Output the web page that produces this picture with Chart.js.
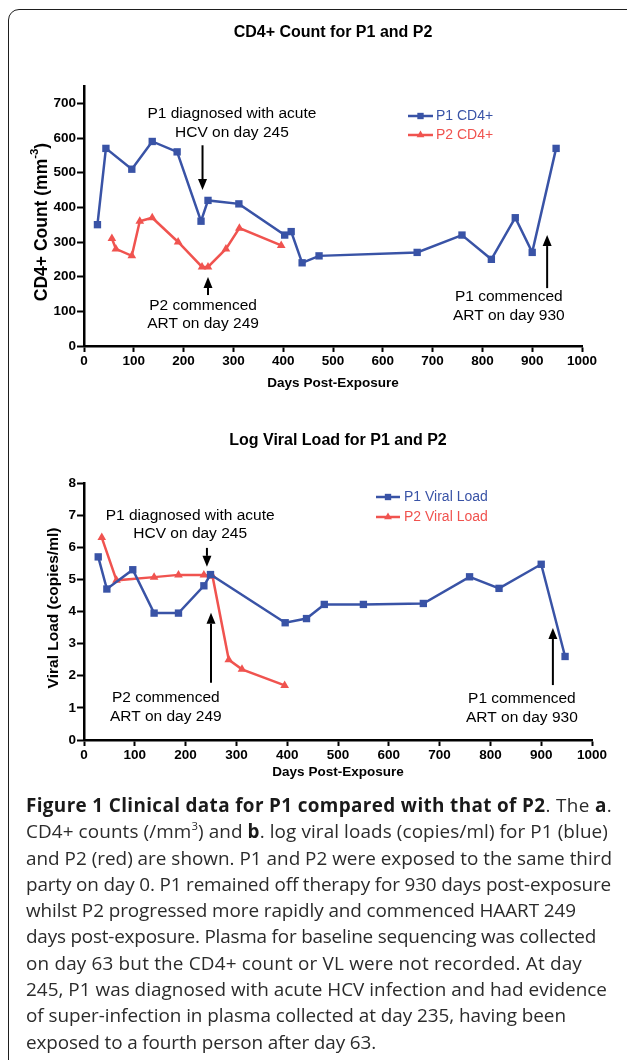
<!DOCTYPE html>
<html><head><meta charset="utf-8">
<script src="https://cdn.jsdelivr.net/npm/chart.js@4.4.1/dist/chart.umd.min.js"></script>
<style>
html,body{margin:0;padding:0;background:#fff;}
body{width:627px;height:1060px;position:relative;overflow:hidden;}
#frame{position:absolute;left:8px;top:9px;width:660px;height:1100px;border:1.6px solid #1e1e1e;border-radius:11px;box-sizing:border-box;}
#c1{position:absolute;left:0;top:0;}
#c2{position:absolute;left:0;top:400px;}
#cap{position:absolute;left:26px;top:792px;font-family:'Open Sans',sans-serif;color:#2b2b2b;font-size:17px;}
.ln{white-space:nowrap;height:26.3px;line-height:26.3px;}
.ln span{display:inline;}
.ln b{color:#1a1a1a;}
sup{font-size:0.6em;line-height:0;vertical-align:0.7em;}
</style></head>
<body>
<div id="frame"></div>
<canvas id="c1" width="627" height="400" style="width:627px;height:400px"></canvas>
<canvas id="c2" width="627" height="400" style="width:627px;height:400px"></canvas>
<div id="cap">
<div class="ln" data-w="586"><span><b>Figure 1 Clinical data for P1 compared with that of P2</b>. The <b>a</b>.</span></div>
<div class="ln" data-w="582"><span>CD4+ counts (/mm<sup>3</sup>) and <b>b</b>. log viral loads (copies/ml) for P1 (blue)</span></div>
<div class="ln" data-w="586" id="l3"><span>and P2 (red) are shown. P1 and P2 were exposed to the same third</span></div>
<div class="ln" data-w="585"><span>party on day 0. P1 remained off therapy for 930 days post-exposure</span></div>
<div class="ln" data-w="550"><span>whilst P2 progressed more rapidly and commenced HAART 249</span></div>
<div class="ln" data-w="570"><span>days post-exposure. Plasma for baseline sequencing was collected</span></div>
<div class="ln" data-w="556"><span>on day 63 but the CD4+ count or VL were not recorded. At day</span></div>
<div class="ln" data-w="581"><span>245, P1 was diagnosed with acute HCV infection and had evidence</span></div>
<div class="ln" data-w="540"><span>of super-infection in plasma collected at day 235, having been</span></div>
<div class="ln" data-w="350"><span>exposed to a fourth person after day 63.</span></div>
</div>
<script>
// ---------- DATA ----------
const xTicksDays = [0,100,200,300,400,500,600,700,800,900,1000];
const cd4Ticks = [0,100,200,300,400,500,600,700];
const vlTicks = [0,1,2,3,4,5,6,7,8];

const p1Cd4Days = [27,44,96,137,187,235,249,311,403,416,438,472,669,759,818,866,900,948];
const p1Cd4     = [350,570,510,590,560,360,420,410,320,330,240,260,270,320,250,370,270,570];
const p2Cd4Days = [56,64,96,112,137,189,237,249,285,312,396];
const p2Cd4     = [310,280,260,360,370,300,228,228,280,340,290];

const p1VlDays = [28,45,96,138,186,236,249,396,438,473,550,668,759,817,900,947];
const p1Vl     = [5.7,4.7,5.3,3.95,3.95,4.8,5.15,3.65,3.78,4.22,4.22,4.25,5.08,4.72,5.47,2.6];
const p2VlDays = [35,64,138,186,236,253,285,311,395];
const p2Vl     = [6.3,4.97,5.07,5.14,5.14,5.1,2.5,2.2,1.7];

const BLUE = '#3953a6';
const RED  = '#f0534f';
const FONT = '"Liberation Sans", Arial, Helvetica, sans-serif';

const pts = (xs, ys) => xs.map((d, i) => ({x: d, y: ys[i]}));

function drawMarker(ctx, style, r, x, y, color) {
  ctx.fillStyle = color; ctx.strokeStyle = color;
  ctx.beginPath();
  if (style === 'rect') {
    const s = r / Math.SQRT2;
    ctx.rect(x - s, y - s, 2 * s, 2 * s);
  } else {
    const w = r * 1.732;
    ctx.moveTo(x, y - r); ctx.lineTo(x + w / 2, y + r / 2); ctx.lineTo(x - w / 2, y + r / 2); ctx.closePath();
  }
  ctx.fill();
}

const annotPlugin = {
  id: 'annot',
  afterDraw(chart, args, o) {
    const {ctx, chartArea: ca, scales: {x, y}} = chart;
    const cx = (ca.left + ca.right) / 2;
    ctx.save();
    ctx.fillStyle = '#000';
    ctx.textAlign = 'center'; ctx.textBaseline = 'middle';
    ctx.font = 'bold 16px ' + FONT;
    ctx.fillText(o.title, cx, o.titleY);
    ctx.font = 'bold 13.5px ' + FONT;
    ctx.fillText(o.xTitle, cx, o.xTitleY);
    // y title (rotated, with optional superscript)
    ctx.save();
    ctx.translate(o.yTitleX, o.yTitleY);
    ctx.rotate(-Math.PI / 2);
    ctx.textAlign = 'left';
    const big = 'bold ' + o.yTitleSize + 'px ' + FONT, small = 'bold ' + (o.yTitleSize * 0.65).toFixed(1) + 'px ' + FONT;
    let w = 0;
    o.yTitle.forEach(p => { ctx.font = p.sup ? small : big; w += ctx.measureText(p.t).width; });
    let px = -w / 2;
    o.yTitle.forEach(p => {
      ctx.font = p.sup ? small : big;
      ctx.fillText(p.t, px, p.sup ? -o.yTitleSize * 0.42 : 0);
      px += ctx.measureText(p.t).width;
    });
    ctx.restore();
    // legend
    const L = o.legend;
    chart.data.datasets.forEach((ds, i) => {
      const ly = L.y + i * L.gap;
      ctx.strokeStyle = ds.borderColor; ctx.lineWidth = 2.5;
      ctx.beginPath(); ctx.moveTo(L.x0, ly); ctx.lineTo(L.x1, ly); ctx.stroke();
      drawMarker(ctx, ds.pointStyle, 4.5, (L.x0 + L.x1) / 2, ly, ds.borderColor);
      ctx.fillStyle = ds.borderColor;
      ctx.font = '14px ' + FONT;
      ctx.textAlign = 'left';
      ctx.fillText(ds.label, L.tx, ly + 0.5);
    });
    // notes
    ctx.fillStyle = '#000';
    ctx.textAlign = 'center';
    ctx.font = '15.5px ' + FONT;
    o.notes.forEach(n => {
      const nx = x.getPixelForValue(n.x), ny = y.getPixelForValue(n.y);
      n.lines.forEach((t, i) => ctx.fillText(t, nx, ny + i * n.gap));
    });
    // arrows
    ctx.strokeStyle = '#000'; ctx.fillStyle = '#000'; ctx.lineWidth = 2;
    o.arrows.forEach(a => {
      const ax = x.getPixelForValue(a.x), y0 = y.getPixelForValue(a.from), y1 = y.getPixelForValue(a.to);
      const dir = y1 > y0 ? 1 : -1, hl = 11, hw = 4.5;
      ctx.beginPath(); ctx.moveTo(ax, y0); ctx.lineTo(ax, y1 - dir * hl); ctx.stroke();
      ctx.beginPath(); ctx.moveTo(ax, y1); ctx.lineTo(ax - hw, y1 - dir * hl); ctx.lineTo(ax + hw, y1 - dir * hl); ctx.closePath(); ctx.fill();
    });
    ctx.restore();
  }
};

const tickFont = {family: FONT, size: 13.5, weight: 'bold'};
function axisX(height) {
  return {
    type: 'linear', min: 0, max: 1000,
    afterBuildTicks: s => { s.ticks = xTicksDays.map(v => ({value: v})); },
    afterFit: s => { s.height = height; },
    ticks: {color: '#000', font: tickFont, padding: 1, maxRotation: 0, autoSkip: false, callback: v => String(v)},
    grid: {drawOnChartArea: false, drawTicks: true, tickLength: 6, tickWidth: 2, tickColor: '#000'},
    border: {display: true, color: '#000', width: 2.5}
  };
}
function axisY(max, ticks) {
  return {
    type: 'linear', min: 0, max: max,
    afterBuildTicks: s => { s.ticks = ticks.map(v => ({value: v})); },
    afterFit: s => { s.width = 84; },
    ticks: {color: '#000', font: tickFont, padding: 1, callback: v => String(v)},
    grid: {drawOnChartArea: false, drawTicks: true, tickLength: 7, tickWidth: 2, tickColor: '#000'},
    border: {display: true, color: '#000', width: 2.5}
  };
}
function ds(label, data, color, style) {
  return {label, data, borderColor: color, backgroundColor: color, borderWidth: 2.5,
    pointStyle: style, pointRadius: style === 'rect' ? 5.2 : 5, pointBorderWidth: 0, pointHoverRadius: 5, tension: 0, fill: false};
}

new Chart(document.getElementById('c1'), {
  type: 'line',
  data: {datasets: [
    ds('P1 CD4+', pts(p1Cd4Days, p1Cd4), BLUE, 'rect'),
    ds('P2 CD4+', pts(p2Cd4Days, p2Cd4), RED, 'triangle')
  ]},
  options: {
    responsive: false, animation: false, devicePixelRatio: 1,
    layout: {padding: {left: 0, right: 45, top: 86, bottom: 24}},
    scales: {x: axisX(30), y: axisY(750, cd4Ticks)},
    plugins: {
      legend: {display: false}, tooltip: {enabled: false}, title: {display: false},
      annot: {
        title: 'CD4+ Count for P1 and P2', titleY: 33,
        xTitle: 'Days Post-Exposure', xTitleY: 383,
        yTitle: [{t: 'CD4+ Count (mm'}, {t: '-3', sup: true}, {t: ')'}], yTitleX: 42, yTitleY: 222, yTitleSize: 17.5,
        legend: {x0: 408, x1: 433, tx: 436, y: 116, gap: 19},
        notes: [
          {x: 297, y: 671, gap: 19, lines: ['P1 diagnosed with acute', 'HCV on day 245']},
          {x: 239, y: 115, gap: 18, lines: ['P2 commenced', 'ART on day 249']},
          {x: 853, y: 141, gap: 19, lines: ['P1 commenced', 'ART on day 930']}
        ],
        arrows: [
          {x: 238, from: 579, to: 450},
          {x: 249, from: 147, to: 199},
          {x: 930, from: 167, to: 320}
        ]
      }
    }
  },
  plugins: [annotPlugin]
});

new Chart(document.getElementById('c2'), {
  type: 'line',
  data: {datasets: [
    ds('P1 Viral Load', pts(p1VlDays, p1Vl), BLUE, 'rect'),
    ds('P2 Viral Load', pts(p2VlDays, p2Vl), RED, 'triangle')
  ]},
  options: {
    responsive: false, animation: false, devicePixelRatio: 1,
    layout: {padding: {left: 0, right: 35, top: 83, bottom: 30}},
    scales: {x: axisX(30), y: axisY(8, vlTicks)},
    plugins: {
      legend: {display: false}, tooltip: {enabled: false}, title: {display: false},
      annot: {
        title: 'Log Viral Load for P1 and P2', titleY: 41,
        xTitle: 'Days Post-Exposure', xTitleY: 372,
        yTitle: [{t: 'Viral Load (copies/ml)'}], yTitleX: 54, yTitleY: 208, yTitleSize: 15.5,
        legend: {x0: 376, x1: 400, tx: 404, y: 97, gap: 20},
        notes: [
          {x: 209, y: 6.98, gap: 18, lines: ['P1 diagnosed with acute', 'HCV on day 245']},
          {x: 161, y: 1.31, gap: 19, lines: ['P2 commenced', 'ART on day 249']},
          {x: 862, y: 1.28, gap: 19, lines: ['P1 commenced', 'ART on day 930']}
        ],
        arrows: [
          {x: 242, from: 5.98, to: 5.39},
          {x: 250, from: 1.78, to: 3.96},
          {x: 923, from: 1.71, to: 3.49}
        ]
      }
    }
  },
  plugins: [annotPlugin]
});

// fit caption size, then nudge each line's letter-spacing to the reference line width
function spanWidth(el) {
  const r = document.createRange(); r.selectNodeContents(el);
  return r.getBoundingClientRect().width;
}
function fitCaption() {
  const cap = document.getElementById('cap');
  const l3 = document.getElementById('l3');
  const fs = parseFloat(getComputedStyle(cap).fontSize);
  cap.style.fontSize = (fs * 586 / spanWidth(l3)).toFixed(2) + 'px';
  document.querySelectorAll('#cap .ln').forEach(ln => {
    const target = parseFloat(ln.dataset.w);
    const w = spanWidth(ln);
    const n = ln.textContent.length;
    const ls = Math.max(-0.6, Math.min(0.6, (target - w) / n));
    ln.style.letterSpacing = ls.toFixed(3) + 'px';
  });
}
if (document.fonts && document.fonts.ready) document.fonts.ready.then(fitCaption); else fitCaption();
</script>
</body></html>
